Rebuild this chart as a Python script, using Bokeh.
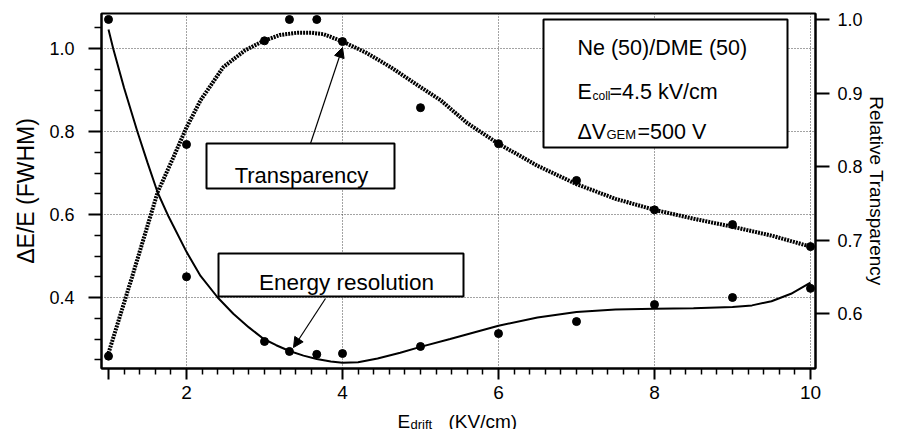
import numpy as np
from bokeh.plotting import figure
from bokeh.layouts import column
from bokeh.models import (Range1d, LinearAxis, FixedTicker, BoxAnnotation, Label,
                          Arrow, NormalHead, PrintfTickFormatter)
from bokeh.core.properties import value
from bokeh.embed import file_html
from bokeh.resources import INLINE

# ---------------- data ----------------
# Energy resolution (left axis), measured points
res_x = [1.0, 2.0, 3.0, 3.32, 3.67, 4.0, 5.0, 6.0, 7.0, 8.0, 9.0, 10.0]
res_y = [1.070, 0.450, 0.294, 0.270, 0.263, 0.265, 0.282, 0.313, 0.342, 0.383, 0.400, 0.422]
# Energy resolution fitted curve
res_fit_x = [1.0, 1.06, 1.2, 1.37, 1.5, 1.63, 1.77, 2.0, 2.18, 2.4, 2.6, 2.8, 2.99, 3.15,
             3.32, 3.5, 3.67, 3.85, 4.0, 4.2, 4.45, 4.74, 5.0, 5.38, 6.0, 6.5, 7.0, 7.5,
             8.0, 8.5, 9.0, 9.25, 9.5, 9.75, 10.0]
res_fit_y = [1.046, 1.0, 0.905, 0.80, 0.725, 0.653, 0.595, 0.51, 0.452, 0.40, 0.361, 0.328,
             0.300, 0.285, 0.271, 0.260, 0.252, 0.246, 0.243, 0.244, 0.253, 0.267, 0.281,
             0.300, 0.332, 0.352, 0.365, 0.371, 0.373, 0.374, 0.377, 0.381, 0.391, 0.409,
             0.436]

# Relative transparency (right axis), measured points
tr_x = [1.0, 2.0, 3.0, 3.32, 3.67, 4.0, 5.0, 6.0, 7.0, 8.0, 9.0, 10.0]
tr_y = [0.542, 0.830, 0.971, 1.000, 1.000, 0.970, 0.880, 0.831, 0.781, 0.741, 0.721, 0.691]
# Transparency fitted curve
tr_fit_x = [1.0, 1.3, 1.63, 1.83, 2.0, 2.18, 2.47, 2.75, 2.99, 3.2, 3.42, 3.6, 3.76, 4.0,
            4.3, 4.62, 5.0, 5.26, 5.6, 6.0, 6.5, 7.0, 7.5, 8.0, 8.5, 9.0, 9.5, 10.0]
tr_fit_y = [0.546, 0.649, 0.765, 0.812, 0.853, 0.890, 0.935, 0.958, 0.971, 0.979, 0.982,
            0.982, 0.980, 0.970, 0.955, 0.935, 0.908, 0.890, 0.859, 0.831, 0.801, 0.776,
            0.756, 0.741, 0.729, 0.718, 0.706, 0.691]

x_ticks = [1, 2, 4, 6, 8, 10]
x_labels = {1: ""}
left_ticks = [0.4, 0.6, 0.8, 1.0]
right_ticks = [0.6, 0.7, 0.8, 0.9, 1.0]

# ------------- layout helpers (pixel position -> data coords, left axis) -------------
def dx(px):
    return 1 + (px - 108) / 78.0

def dy(py):
    return 1.0 - (py - 48) / 415.0

FONT = "Liberation Sans"
W = 891
H1 = 406
H2 = 23

p = figure(width=W, height=H1, output_backend="svg", toolbar_location=None,
           x_range=Range1d(dx(101), dx(815)), y_range=Range1d(dy(368), dy(13)),
           min_border_left=101, min_border_right=W - 815, min_border_top=13,
           min_border_bottom=H1 - 368,
           background_fill_color="white", border_fill_color="white")
p.title.visible = False
p.extra_y_ranges = {"right": Range1d(0.6 - 55 / 735.0, 1.0 + 6 / 735.0)}

p.outline_line_color = "black"
p.outline_line_width = 2

# grids
p.xgrid.ticker = FixedTicker(ticks=[2, 4, 6, 8, 10])
p.ygrid.ticker = FixedTicker(ticks=left_ticks)
for g in (p.xgrid, p.ygrid):
    g.grid_line_color = "#333333"
    g.grid_line_dash = "1 2"
    g.grid_line_width = 1
    g.grid_line_alpha = 0.9

# bottom axis
xminor = [round(v, 2) for v in np.arange(1.2, 10.01, 0.2) if round(v, 2) not in x_ticks]
p.xaxis.ticker = FixedTicker(ticks=x_ticks, minor_ticks=xminor)
p.xaxis.major_label_overrides = x_labels
p.xaxis.major_tick_out = 11
p.xaxis.major_tick_in = 0
p.xaxis.minor_tick_out = 6
p.xaxis.minor_tick_in = 0
p.xaxis.major_label_standoff = 6
p.xaxis.major_label_text_font = FONT
p.xaxis.major_label_text_font_size = "19px"

# left axis
lminor = [round(v, 2) for v in np.arange(0.25, 1.06, 0.05) if round(v, 2) not in left_ticks]
p.yaxis.ticker = FixedTicker(ticks=left_ticks, minor_ticks=lminor)
p.yaxis.formatter = PrintfTickFormatter(format="%.1f")
p.yaxis.major_tick_out = 13
p.yaxis.major_tick_in = 0
p.yaxis.minor_tick_out = 7
p.yaxis.minor_tick_in = 0
p.yaxis.major_label_standoff = 14
p.yaxis.major_label_text_font = FONT
p.yaxis.major_label_text_font_size = "18px"
p.yaxis.axis_label = "ΔE/E (FWHM)"
p.yaxis.axis_label_text_font = FONT
p.yaxis.axis_label_text_font_size = "23px"
p.yaxis.axis_label_text_font_style = "normal"
p.yaxis.axis_label_standoff = 7

# right axis
ra = LinearAxis(y_range_name="right", ticker=FixedTicker(ticks=right_ticks, minor_ticks=[]),
                formatter=PrintfTickFormatter(format="%.1f"))
ra.major_tick_out = 14
ra.major_tick_in = 0
ra.major_label_standoff = 8
ra.major_label_text_font = FONT
ra.major_label_text_font_size = "18px"
ra.axis_label = "Relative Transparency"
ra.axis_label_text_font = FONT
ra.axis_label_text_font_size = "19px"
ra.axis_label_text_font_style = "normal"
ra.axis_label_standoff = 0
p.add_layout(ra, "right")

for ax in (p.xaxis[0], p.yaxis[0], ra):
    ax.axis_line_color = "black"
    ax.axis_line_width = 2
    ax.major_tick_line_color = "black"
    ax.major_tick_line_width = 2
    ax.minor_tick_line_color = "black"
    ax.minor_tick_line_width = 1.5
    ax.major_label_text_color = "black"
    ax.axis_label_text_color = "black"

# curves
p.line(tr_fit_x, tr_fit_y, y_range_name="right", line_color="black", line_width=4,
       line_dash="2 1")
p.line(res_fit_x, res_fit_y, line_color="black", line_width=2)
p.scatter(res_x, res_y, size=8, color="black")
p.scatter(tr_x, tr_y, y_range_name="right", size=8, color="black")

# boxes
box_style = dict(fill_color="white", fill_alpha=1.0, line_color="black", line_width=2,
                 line_alpha=1.0)
p.add_layout(BoxAnnotation(left=dx(543), right=dx(787), top=dy(19), bottom=dy(147), **box_style))
p.add_layout(BoxAnnotation(left=dx(206), right=dx(394), top=dy(143), bottom=dy(188), **box_style))
p.add_layout(BoxAnnotation(left=dx(218), right=dx(463), top=dy(253), bottom=dy(296), **box_style))

def lab(text, px, py, size, align="left"):
    p.add_layout(Label(x=dx(px), y=dy(py), text=text, text_font=FONT,
                       text_font_size=size, text_align=align,
                       text_baseline="alphabetic", text_color="black"))

# box texts
lab("Transparency", 301, 175, "22px", align="center")
lab("Energy resolution", 346, 282, "22.5px", align="center")
lab("Ne (50)/DME (50)", 577, 47, "21.5px")
lab("E", 577, 91, "21.5px")
lab("coll", 592, 95, "12px")
lab("=4.5 kV/cm", 609, 91, "21.5px")
lab("ΔV", 577, 131, "21.5px")
lab("GEM", 606, 134, "13px")
lab("=500 V", 637, 131, "21.5px")

# arrows
p.add_layout(Arrow(end=NormalHead(size=10, fill_color="black", line_color="black"),
                   x_start=dx(310), y_start=dy(143), x_end=dx(342), y_end=dy(47),
                   line_color="black", line_width=1.2))
p.add_layout(Arrow(end=NormalHead(size=10, fill_color="black", line_color="black"),
                   x_start=dx(325), y_start=dy(298), x_end=dx(293), y_end=dy(347),
                   line_color="black", line_width=1.2))

# x-axis title strip (second figure sharing the x range; y in pixels from its bottom)
p2 = figure(width=W, height=H2, output_backend="svg", toolbar_location=None,
            x_range=p.x_range, y_range=Range1d(0, H2),
            min_border_left=101, min_border_right=W - 815, min_border_top=0,
            min_border_bottom=0, outline_line_color=None,
            background_fill_color="white", border_fill_color="white")
p2.title.visible = False
p2.axis.visible = False
p2.grid.visible = False
title_parts = ["E", "drift", "(KV/cm)"]
title_px = [397, 410, 448]
title_base = [8, 5, 8]
title_size = ["19px", "13px", "19px"]
for t, tx, ty, ts in zip(title_parts, title_px, title_base, title_size):
    p2.text(x=[dx(tx)], y=[ty], text=[t], text_font=value(FONT), text_font_size=value(ts),
            text_align="left", text_baseline="alphabetic", text_color="black")

layout = column(p, p2, spacing=0)
open("out.html", "w").write(file_html(layout, INLINE))
